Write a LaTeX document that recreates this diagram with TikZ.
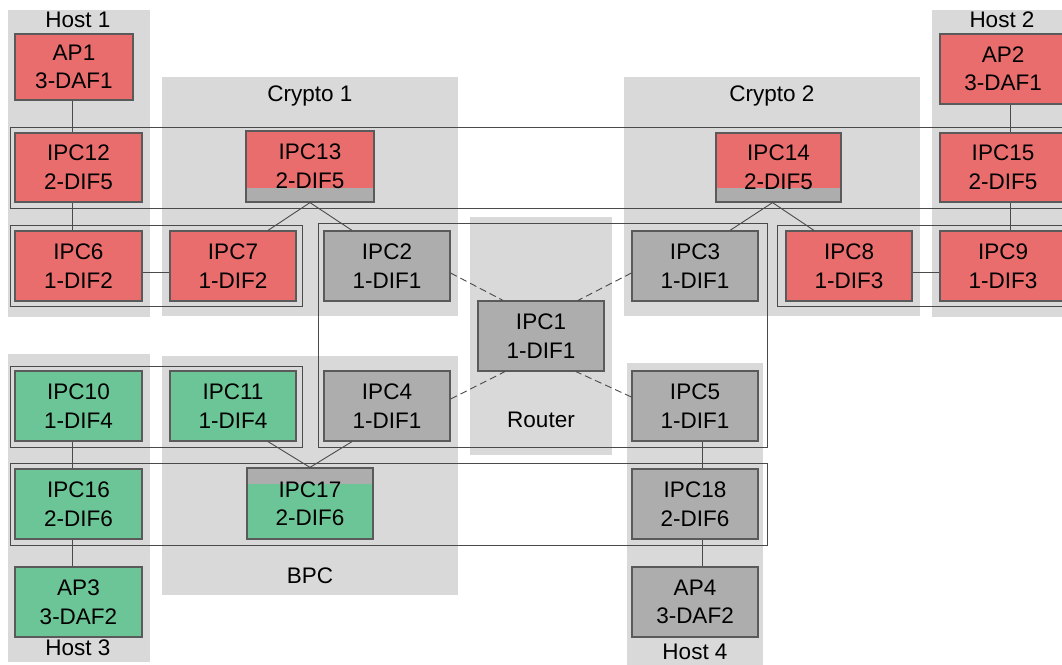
\documentclass[tikz,border=0pt]{standalone}
\usepackage{fontspec}
\setmainfont{Liberation Sans}
\definecolor{redfill}{HTML}{EA6D6D}
\definecolor{greenfill}{HTML}{6CC596}
\definecolor{boxgrey}{HTML}{ADADAD}
\definecolor{regiongrey}{HTML}{D9D9D9}
\definecolor{edgegrey}{HTML}{5A5A5A}
\definecolor{linegrey}{HTML}{4A4A4A}
\tikzset{
  region/.style={fill=regiongrey, draw=none},
  regionlabel/.style={font=\fontsize{22.5}{26}\selectfont, text=black, inner sep=0},
  difrect/.style={draw=linegrey, line width=0.8pt},
  pbox/.style={draw=edgegrey, line width=1.2pt, minimum width=126, minimum height=70, inner sep=0,
    align=center, font=\fontsize{22.5}{28.5}\selectfont, text=black},
  redbox/.style={pbox, fill=redfill},
  greenbox/.style={pbox, fill=greenfill},
  greybox/.style={pbox, fill=boxgrey},
  stripbottom/.style={path picture={\fill[boxgrey] (path picture bounding box.south west) rectangle ([yshift=14pt]path picture bounding box.south east);}},
  striptop/.style={path picture={\fill[boxgrey] (path picture bounding box.north west) rectangle ([yshift=-16pt]path picture bounding box.north east);}},
  conn/.style={draw=linegrey, line width=0.9pt},
  dconn/.style={draw=linegrey, line width=0.9pt, dash pattern=on 7pt off 4pt},
}
\begin{document}
\begin{tikzpicture}[x=1pt, y=-1pt]
\clip (0,0) rectangle (1062,664);
\fill[white] (0,0) rectangle (1062,664);
% regions
\fill[region] (8,10) rectangle (150,317);
\fill[region] (162,77) rectangle (458,316);
\fill[region] (470,217) rectangle (612,455);
\fill[region] (624,77) rectangle (920,316);
\fill[region] (932,10) rectangle (1075,317);
\fill[region] (8,354) rectangle (150,662);
\fill[region] (162,356) rectangle (458,595);
\fill[region] (627,363) rectangle (763,675);
% region labels
\node[regionlabel] (lh1) at (78,20) {Host 1};
\node[regionlabel] (lc1) at (310,96) {Crypto 1};
\node[regionlabel] (lc2) at (772,96) {Crypto 2};
\node[regionlabel] (lh2) at (1002,20) {Host 2};
\node[regionlabel] (lrt) at (541,420) {Router};
\node[regionlabel] (lbpc) at (310,576) {BPC};
\node[regionlabel] (lh3) at (78,648) {Host 3};
\node[regionlabel] (lh4) at (695,652) {Host 4};
% DIF rectangles
\draw[difrect] (10,127) rectangle (1075,208);
\draw[difrect] (10,225) rectangle (302,306);
\draw[difrect] (777,225) rectangle (1075,306);
\draw[difrect] (318,223) rectangle (767,447);
\draw[difrect] (10,366) rectangle (302,447);
\draw[difrect] (10,463) rectangle (767,545);
% boxes
\node[redbox, minimum width=118, minimum height=66] (ap1) at (74,67) {AP1\\3-DAF1};
\node[redbox, minimum height=70] (ap2) at (1003,69) {AP2\\3-DAF1};
\node[redbox, minimum width=127, minimum height=69] (ipc12) at (78.5,167.5) {IPC12\\2-DIF5};
\node[redbox, minimum width=127] (ipc6) at (78.5,266) {IPC6\\1-DIF2};
\node[redbox] (ipc7) at (233,266) {IPC7\\1-DIF2};
\node[redbox, stripbottom, minimum width=128, minimum height=71] (ipc13) at (310,166.5) {IPC13\\2-DIF5};
\node[greybox] (ipc2) at (387,266) {IPC2\\1-DIF1};
\node[redbox, stripbottom, minimum width=125, minimum height=69] (ipc14) at (778.5,167.5) {IPC14\\2-DIF5};
\node[greybox] (ipc3) at (695,266) {IPC3\\1-DIF1};
\node[redbox] (ipc8) at (849,266) {IPC8\\1-DIF3};
\node[redbox, minimum height=69] (ipc15) at (1003,167.5) {IPC15\\2-DIF5};
\node[redbox] (ipc9) at (1003,266) {IPC9\\1-DIF3};
\node[greybox] (ipc1) at (541,336) {IPC1\\1-DIF1};
\node[greenbox, minimum width=127] (ipc10) at (78.5,406) {IPC10\\1-DIF4};
\node[greenbox] (ipc11) at (233,406) {IPC11\\1-DIF4};
\node[greybox] (ipc4) at (387,406) {IPC4\\1-DIF1};
\node[greybox] (ipc5) at (695,406) {IPC5\\1-DIF1};
\node[greenbox, minimum width=127] (ipc16) at (78.5,504) {IPC16\\2-DIF6};
\node[greenbox, striptop, minimum height=71] (ipc17) at (310,503.5) {IPC17\\2-DIF6};
\node[greybox] (ipc18) at (695,504) {IPC18\\2-DIF6};
\node[greenbox, minimum width=127] (ap3) at (78.5,602) {AP3\\3-DAF2};
\node[greybox] (ap4) at (695,602) {AP4\\3-DAF2};
% solid connectors
\draw[conn] ([xshift=-2pt]ap1.south) -- ([xshift=-6.5pt]ipc12.north);
\draw[conn] ([xshift=-6.5pt]ipc12.south) -- ([xshift=-6.5pt]ipc6.north);
\draw[conn] ([yshift=-6pt]ipc6.east) -- ([yshift=-6pt]ipc7.west);
\draw[conn] (ipc13.south) -- ([xshift=35pt]ipc7.north);
\draw[conn] (ipc13.south) -- ([xshift=-35pt]ipc2.north);
\draw[conn] ([xshift=-6pt]ipc14.south) -- ([xshift=35pt]ipc3.north);
\draw[conn] ([xshift=-6pt]ipc14.south) -- ([xshift=-35pt]ipc8.north);
\draw[conn] ([xshift=7pt]ap2.south) -- ([xshift=7pt]ipc15.north);
\draw[conn] ([xshift=7pt]ipc15.south) -- ([xshift=7pt]ipc9.north);
\draw[conn] ([yshift=-6pt]ipc8.east) -- ([yshift=-6pt]ipc9.west);
\draw[conn] ([xshift=-6.5pt]ipc10.south) -- ([xshift=-6.5pt]ipc16.north);
\draw[conn] ([xshift=-6.5pt]ipc16.south) -- ([xshift=-6.5pt]ap3.north);
\draw[conn] (ipc17.north) -- ([xshift=35pt]ipc11.south);
\draw[conn] (ipc17.north) -- ([xshift=-35pt]ipc4.south);
\draw[conn] ([xshift=7pt]ipc5.south) -- ([xshift=7pt]ipc18.north);
\draw[conn] ([xshift=7pt]ipc18.south) -- ([xshift=7pt]ap4.north);
% dashed connectors
\draw[dconn] ([yshift=-7pt]ipc2.east) -- ([xshift=-38pt]ipc1.north);
\draw[dconn] ([yshift=-7pt]ipc3.west) -- ([xshift=37pt]ipc1.north);
\draw[dconn] ([yshift=7pt]ipc4.east) -- ([xshift=-36pt]ipc1.south);
\draw[dconn] ([yshift=9pt]ipc5.west) -- ([xshift=35pt]ipc1.south);
\end{tikzpicture}
\end{document}
